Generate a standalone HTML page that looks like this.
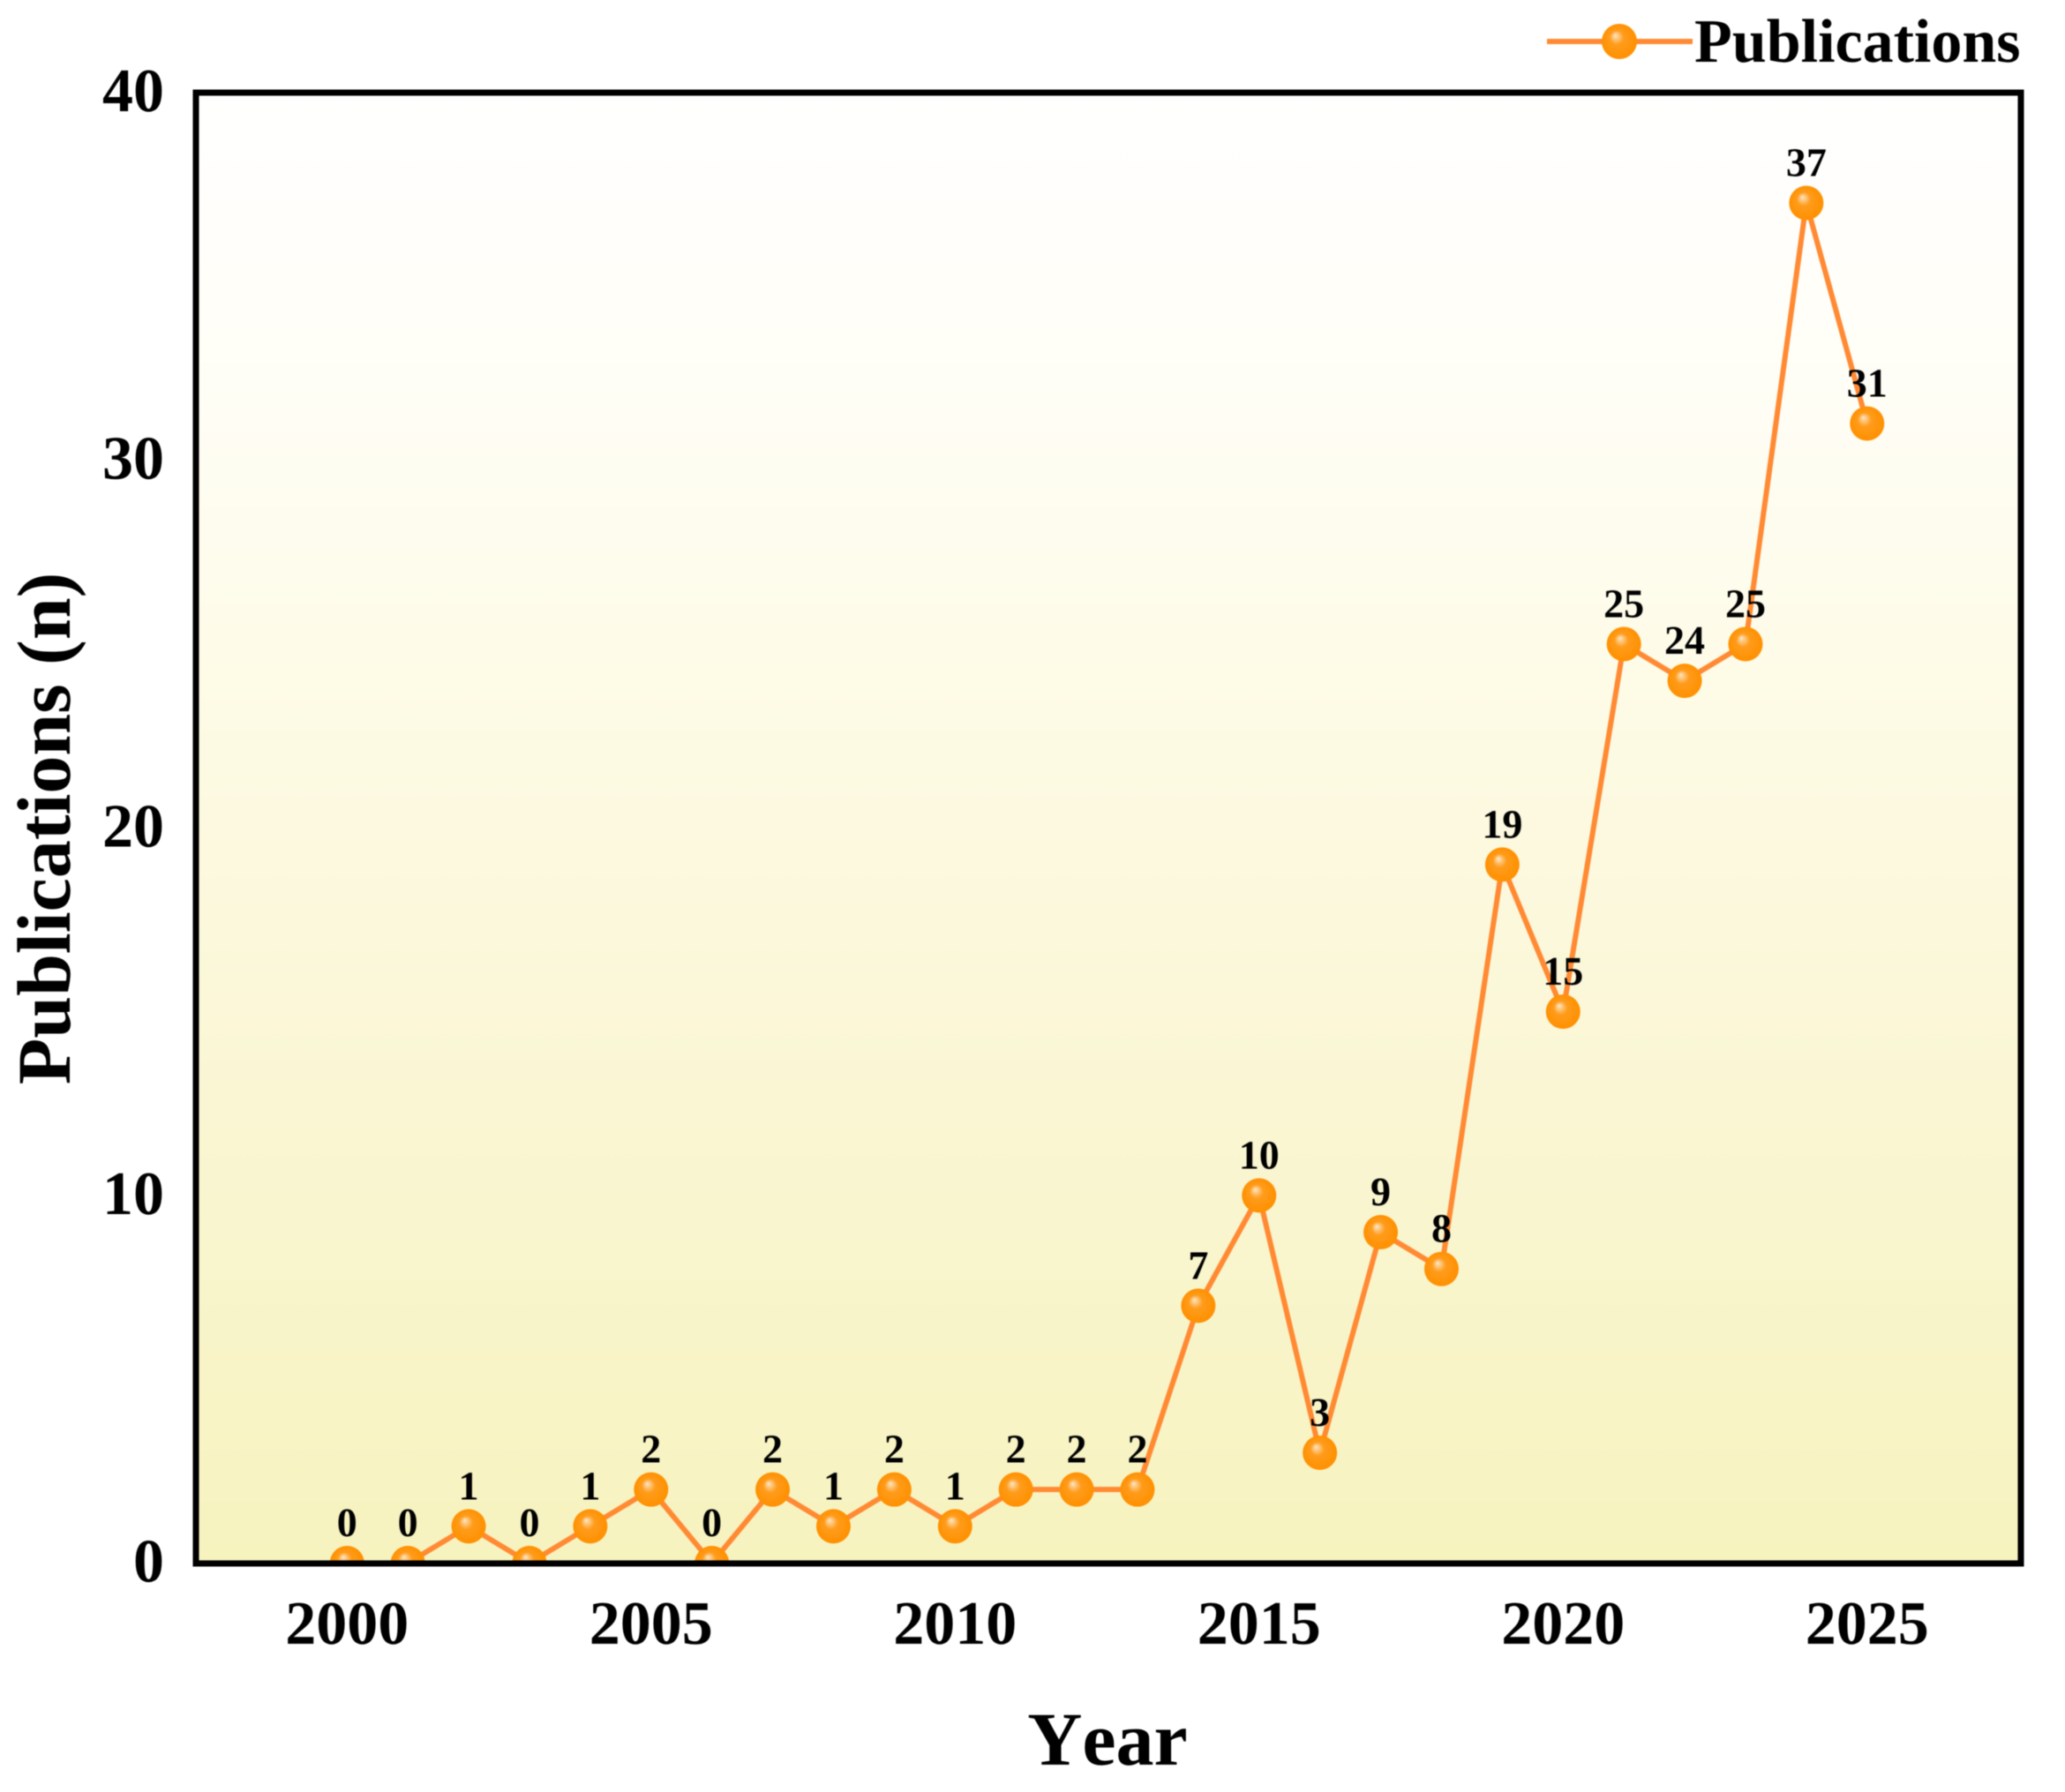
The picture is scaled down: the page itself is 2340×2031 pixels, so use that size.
<!DOCTYPE html>
<html lang="en">
<head>
<meta charset="utf-8">
<title>Publications per year</title>
<style>
  html, body { margin: 0; padding: 0; background: #ffffff; }
  svg { display: block; filter: blur(0.6px); }
  text { font-family: "Liberation Serif", serif; font-weight: bold; fill: #000000; text-rendering: geometricPrecision; font-kerning: none; }
</style>
</head>
<body>
<svg id="chart" xmlns="http://www.w3.org/2000/svg" width="2340" height="2031" viewBox="0 0 2340 2031">
  <defs>
    <linearGradient id="plot-bg" x1="0" y1="0" x2="0" y2="1">
      <stop offset="0" stop-color="#ffffff"/>
      <stop offset="0.2" stop-color="#fffef6"/>
      <stop offset="0.4" stop-color="#fefbe7"/>
      <stop offset="0.7" stop-color="#faf6d3"/>
      <stop offset="1" stop-color="#f7f3bf"/>
    </linearGradient>
    <radialGradient id="ball" cx="0.5" cy="0.5" r="0.5" fx="0.38" fy="0.32">
      <stop offset="0" stop-color="#ffe8cc"/>
      <stop offset="0.16" stop-color="#ffc880"/>
      <stop offset="0.4" stop-color="#ff9c1c"/>
      <stop offset="1" stop-color="#ff9000"/>
    </radialGradient>
    <clipPath id="plot-clip"><rect x="222" y="105" width="2068" height="1667"/></clipPath>
  </defs>
  <rect x="222" y="105" width="2068" height="1667" fill="url(#plot-bg)"/>
  <g id="series-layer" clip-path="url(#plot-clip)"></g>
  <g id="label-layer"></g>
  <rect x="222" y="105" width="2068" height="1667" fill="none" stroke="#000000" stroke-width="7"/>
  <g id="x-ticks"></g>
  <g id="y-ticks"></g>
  <text x="1255" y="2000" font-size="86" text-anchor="middle">Year</text>
  <text transform="translate(79 939) rotate(-90)" font-size="86" text-anchor="middle">Publications (n)</text>
  <g>
    <line x1="1753" y1="47" x2="1918" y2="47" stroke="#ff8a33" stroke-width="6"/>
    <circle cx="1835" cy="47" r="20" fill="url(#ball)"/>
    <text x="1920" y="70" font-size="70">Publications</text>
  </g>
</svg>
<script>
const years = [2000,2001,2002,2003,2004,2005,2006,2007,2008,2009,2010,2011,2012,2013,2014,2015,2016,2017,2018,2019,2020,2021,2022,2023,2024,2025];
const publications = [0,0,1,0,1,2,0,2,1,2,1,2,2,2,7,10,3,9,8,19,15,25,24,25,37,31];
const xTickLabels = [2000,2005,2010,2015,2020,2025];
const yTickLabels = [0,10,20,30,40];

const NS = 'http://www.w3.org/2000/svg';
function xScale(v) { return 221 + (v - 1997.5) / 30 * 2067; }
function yScale(v) { return 1771.5 - v / 40 * 1666.5; }

const seriesLayer = document.getElementById('series-layer');
const labelLayer = document.getElementById('label-layer');
const xTicks = document.getElementById('x-ticks');
const yTicks = document.getElementById('y-ticks');

const line = document.createElementNS(NS, 'polyline');


line.setAttribute('points', years.map(function (yr, i) { return xScale(yr) + ',' + yScale(publications[i]); }).join(' '));
line.setAttribute('fill', 'none');
line.setAttribute('stroke', '#ff8a33');
line.setAttribute('stroke-width', '6');
line.setAttribute('stroke-linejoin', 'miter');
seriesLayer.appendChild(line);

years.forEach(function (yr, i) {
  const dot = document.createElementNS(NS, 'circle');
  
  
  dot.setAttribute('cx', xScale(yr));
  dot.setAttribute('cy', yScale(publications[i]));
  dot.setAttribute('r', '19.5');
  dot.setAttribute('fill', 'url(#ball)');
  seriesLayer.appendChild(dot);

  const label = document.createElementNS(NS, 'text');
  
  
  label.setAttribute('x', xScale(yr));
  label.setAttribute('y', yScale(publications[i]) - 30.5);
  label.setAttribute('font-size', '46');
  label.setAttribute('text-anchor', 'middle');
  label.textContent = publications[i];
  labelLayer.appendChild(label);
});

xTickLabels.forEach(function (t) {
  const tick = document.createElementNS(NS, 'text');
  
  
  tick.setAttribute('x', xScale(t));
  tick.setAttribute('y', 1863);
  tick.setAttribute('font-size', '70');
  tick.setAttribute('text-anchor', 'middle');
  tick.textContent = t;
  xTicks.appendChild(tick);
});

yTickLabels.forEach(function (t) {
  const tick = document.createElementNS(NS, 'text');
  
  
  tick.setAttribute('x', 186);
  tick.setAttribute('y', yScale(t) + 21);
  tick.setAttribute('font-size', '70');
  tick.setAttribute('text-anchor', 'end');
  tick.textContent = t;
  yTicks.appendChild(tick);
});
</script>
</body>
</html>
